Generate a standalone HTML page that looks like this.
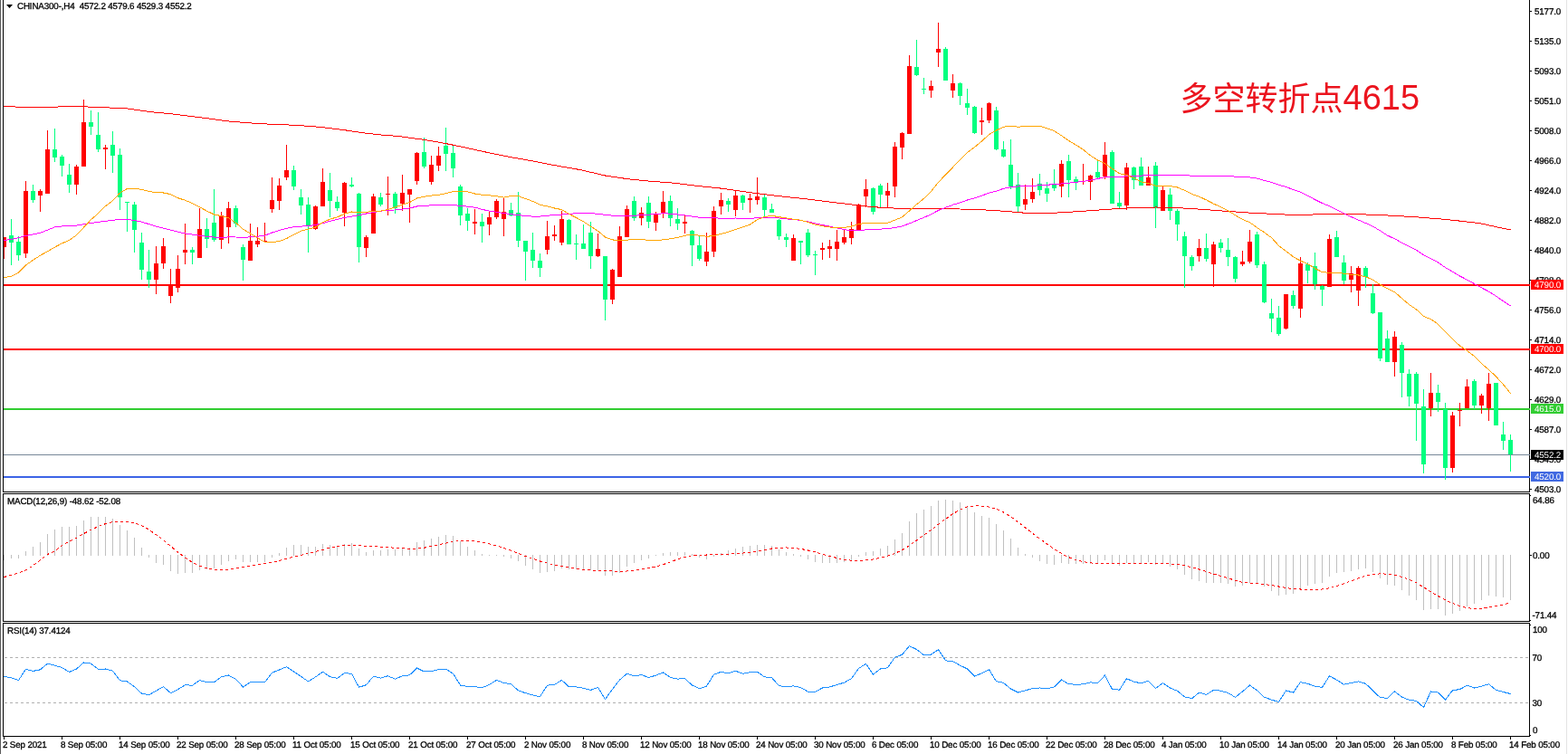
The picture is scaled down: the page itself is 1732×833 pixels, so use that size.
<!DOCTYPE html>
<html><head><meta charset="utf-8"><title>CHINA300 H4</title>
<style>html,body{margin:0;padding:0;background:#fff;overflow:hidden;width:1732px;height:833px}svg{display:block}</style>
</head><body>
<svg width="1732" height="833" viewBox="0 0 1732 833"><rect x="0" y="0" width="1732" height="833" fill="#fff"/>
<rect x="0" y="0" width="1" height="833" fill="#5a5a5a"/>
<rect x="1730" y="0" width="1" height="833" fill="#e3e3e3"/>
<rect x="4" y="314" width="1686" height="2" fill="#ff0000"/>
<rect x="4" y="385" width="1686" height="2" fill="#ff0000"/>
<rect x="4" y="451" width="1686" height="2" fill="#32cd32"/>
<rect x="4" y="502" width="1686" height="1" fill="#778899"/>
<rect x="4" y="526" width="1686" height="2" fill="#3c64e6"/>
<g shape-rendering="crispEdges">
<rect x="4" y="262" width="1" height="24" fill="#ff0000"/>
<rect x="4" y="262" width="3" height="11" fill="#ff0000"/>
<rect x="12" y="242" width="1" height="51" fill="#00ff7f"/>
<rect x="10" y="260" width="5" height="8" fill="#00ff7f"/>
<rect x="20" y="261" width="1" height="27" fill="#00ff7f"/>
<rect x="18" y="267" width="5" height="15" fill="#00ff7f"/>
<rect x="28" y="200" width="1" height="85" fill="#ff0000"/>
<rect x="26" y="211" width="5" height="69" fill="#ff0000"/>
<rect x="36" y="204" width="1" height="20" fill="#00ff7f"/>
<rect x="34" y="211" width="5" height="10" fill="#00ff7f"/>
<rect x="44" y="209" width="1" height="25" fill="#ff0000"/>
<rect x="42" y="211" width="5" height="5" fill="#ff0000"/>
<rect x="52" y="144" width="1" height="70" fill="#ff0000"/>
<rect x="50" y="165" width="5" height="49" fill="#ff0000"/>
<rect x="60" y="142" width="1" height="37" fill="#00ff7f"/>
<rect x="58" y="165" width="5" height="9" fill="#00ff7f"/>
<rect x="68" y="171" width="1" height="24" fill="#00ff7f"/>
<rect x="66" y="173" width="5" height="10" fill="#00ff7f"/>
<rect x="76" y="181" width="1" height="32" fill="#00ff7f"/>
<rect x="74" y="193" width="5" height="11" fill="#00ff7f"/>
<rect x="84" y="182" width="1" height="33" fill="#ff0000"/>
<rect x="82" y="184" width="5" height="20" fill="#ff0000"/>
<rect x="92" y="110" width="1" height="74" fill="#ff0000"/>
<rect x="90" y="135" width="5" height="49" fill="#ff0000"/>
<rect x="100" y="122" width="1" height="27" fill="#00ff7f"/>
<rect x="98" y="135" width="5" height="5" fill="#00ff7f"/>
<rect x="108" y="124" width="1" height="44" fill="#00ff7f"/>
<rect x="106" y="149" width="5" height="16" fill="#00ff7f"/>
<rect x="116" y="160" width="1" height="27" fill="#ff0000"/>
<rect x="114" y="163" width="5" height="2" fill="#ff0000"/>
<rect x="124" y="145" width="1" height="46" fill="#00ff7f"/>
<rect x="122" y="160" width="5" height="12" fill="#00ff7f"/>
<rect x="132" y="164" width="1" height="68" fill="#00ff7f"/>
<rect x="130" y="171" width="5" height="47" fill="#00ff7f"/>
<rect x="140" y="223" width="1" height="33" fill="#00ff7f"/>
<rect x="138" y="223" width="5" height="1" fill="#00ff7f"/>
<rect x="148" y="223" width="1" height="56" fill="#00ff7f"/>
<rect x="146" y="226" width="5" height="28" fill="#00ff7f"/>
<rect x="156" y="257" width="1" height="52" fill="#00ff7f"/>
<rect x="154" y="268" width="5" height="30" fill="#00ff7f"/>
<rect x="164" y="276" width="1" height="42" fill="#00ff7f"/>
<rect x="162" y="300" width="5" height="9" fill="#00ff7f"/>
<rect x="172" y="272" width="1" height="53" fill="#ff0000"/>
<rect x="170" y="291" width="5" height="18" fill="#ff0000"/>
<rect x="180" y="263" width="1" height="34" fill="#ff0000"/>
<rect x="178" y="272" width="5" height="19" fill="#ff0000"/>
<rect x="188" y="297" width="1" height="38" fill="#ff0000"/>
<rect x="186" y="315" width="5" height="12" fill="#ff0000"/>
<rect x="196" y="282" width="1" height="41" fill="#ff0000"/>
<rect x="194" y="297" width="5" height="21" fill="#ff0000"/>
<rect x="204" y="247" width="1" height="45" fill="#ff0000"/>
<rect x="202" y="276" width="5" height="3" fill="#ff0000"/>
<rect x="212" y="273" width="1" height="19" fill="#00ff7f"/>
<rect x="210" y="276" width="5" height="3" fill="#00ff7f"/>
<rect x="220" y="230" width="1" height="55" fill="#ff0000"/>
<rect x="218" y="253" width="5" height="32" fill="#ff0000"/>
<rect x="228" y="241" width="1" height="33" fill="#00ff7f"/>
<rect x="226" y="253" width="5" height="11" fill="#00ff7f"/>
<rect x="236" y="209" width="1" height="58" fill="#00ff7f"/>
<rect x="234" y="246" width="5" height="19" fill="#00ff7f"/>
<rect x="244" y="234" width="1" height="41" fill="#ff0000"/>
<rect x="242" y="238" width="5" height="27" fill="#ff0000"/>
<rect x="252" y="223" width="1" height="46" fill="#ff0000"/>
<rect x="250" y="230" width="5" height="21" fill="#ff0000"/>
<rect x="260" y="227" width="1" height="24" fill="#00ff7f"/>
<rect x="258" y="230" width="5" height="17" fill="#00ff7f"/>
<rect x="268" y="270" width="1" height="40" fill="#00ff7f"/>
<rect x="266" y="273" width="5" height="14" fill="#00ff7f"/>
<rect x="276" y="247" width="1" height="41" fill="#ff0000"/>
<rect x="274" y="266" width="5" height="22" fill="#ff0000"/>
<rect x="284" y="251" width="1" height="22" fill="#ff0000"/>
<rect x="282" y="266" width="5" height="4" fill="#ff0000"/>
<rect x="292" y="246" width="1" height="21" fill="#ff0000"/>
<rect x="290" y="266" width="5" height="1" fill="#ff0000"/>
<rect x="300" y="196" width="1" height="39" fill="#ff0000"/>
<rect x="298" y="221" width="5" height="10" fill="#ff0000"/>
<rect x="308" y="197" width="1" height="35" fill="#ff0000"/>
<rect x="306" y="205" width="5" height="17" fill="#ff0000"/>
<rect x="316" y="160" width="1" height="39" fill="#ff0000"/>
<rect x="314" y="188" width="5" height="8" fill="#ff0000"/>
<rect x="324" y="183" width="1" height="27" fill="#00ff7f"/>
<rect x="322" y="188" width="5" height="18" fill="#00ff7f"/>
<rect x="332" y="209" width="1" height="28" fill="#00ff7f"/>
<rect x="330" y="218" width="5" height="9" fill="#00ff7f"/>
<rect x="340" y="218" width="1" height="61" fill="#00ff7f"/>
<rect x="338" y="226" width="5" height="23" fill="#00ff7f"/>
<rect x="348" y="227" width="1" height="27" fill="#ff0000"/>
<rect x="346" y="228" width="5" height="25" fill="#ff0000"/>
<rect x="356" y="186" width="1" height="42" fill="#ff0000"/>
<rect x="354" y="201" width="5" height="27" fill="#ff0000"/>
<rect x="364" y="191" width="1" height="49" fill="#00ff7f"/>
<rect x="362" y="210" width="5" height="12" fill="#00ff7f"/>
<rect x="372" y="217" width="1" height="16" fill="#00ff7f"/>
<rect x="370" y="223" width="5" height="7" fill="#00ff7f"/>
<rect x="380" y="201" width="1" height="49" fill="#ff0000"/>
<rect x="378" y="202" width="5" height="33" fill="#ff0000"/>
<rect x="388" y="196" width="1" height="11" fill="#00ff7f"/>
<rect x="386" y="204" width="5" height="2" fill="#00ff7f"/>
<rect x="396" y="213" width="1" height="77" fill="#00ff7f"/>
<rect x="394" y="214" width="5" height="59" fill="#00ff7f"/>
<rect x="404" y="260" width="1" height="24" fill="#ff0000"/>
<rect x="402" y="262" width="5" height="12" fill="#ff0000"/>
<rect x="412" y="214" width="1" height="44" fill="#ff0000"/>
<rect x="410" y="217" width="5" height="41" fill="#ff0000"/>
<rect x="420" y="213" width="1" height="15" fill="#00ff7f"/>
<rect x="418" y="218" width="5" height="8" fill="#00ff7f"/>
<rect x="428" y="195" width="1" height="43" fill="#ff0000"/>
<rect x="426" y="214" width="5" height="1" fill="#ff0000"/>
<rect x="436" y="212" width="1" height="24" fill="#00ff7f"/>
<rect x="434" y="214" width="5" height="16" fill="#00ff7f"/>
<rect x="444" y="193" width="1" height="40" fill="#ff0000"/>
<rect x="442" y="213" width="5" height="12" fill="#ff0000"/>
<rect x="452" y="209" width="1" height="37" fill="#ff0000"/>
<rect x="450" y="209" width="5" height="6" fill="#ff0000"/>
<rect x="460" y="168" width="1" height="36" fill="#ff0000"/>
<rect x="458" y="169" width="5" height="31" fill="#ff0000"/>
<rect x="468" y="152" width="1" height="34" fill="#00ff7f"/>
<rect x="466" y="168" width="5" height="16" fill="#00ff7f"/>
<rect x="476" y="172" width="1" height="32" fill="#ff0000"/>
<rect x="474" y="182" width="5" height="19" fill="#ff0000"/>
<rect x="484" y="162" width="1" height="27" fill="#ff0000"/>
<rect x="482" y="172" width="5" height="11" fill="#ff0000"/>
<rect x="492" y="141" width="1" height="48" fill="#00ff7f"/>
<rect x="490" y="161" width="5" height="9" fill="#00ff7f"/>
<rect x="500" y="161" width="1" height="35" fill="#00ff7f"/>
<rect x="498" y="169" width="5" height="17" fill="#00ff7f"/>
<rect x="508" y="204" width="1" height="45" fill="#00ff7f"/>
<rect x="506" y="206" width="5" height="32" fill="#00ff7f"/>
<rect x="516" y="230" width="1" height="25" fill="#00ff7f"/>
<rect x="514" y="236" width="5" height="8" fill="#00ff7f"/>
<rect x="524" y="231" width="1" height="28" fill="#ff0000"/>
<rect x="522" y="245" width="5" height="2" fill="#ff0000"/>
<rect x="532" y="236" width="1" height="32" fill="#00ff7f"/>
<rect x="530" y="245" width="5" height="5" fill="#00ff7f"/>
<rect x="540" y="234" width="1" height="26" fill="#ff0000"/>
<rect x="538" y="240" width="5" height="8" fill="#ff0000"/>
<rect x="548" y="220" width="1" height="22" fill="#ff0000"/>
<rect x="546" y="222" width="5" height="18" fill="#ff0000"/>
<rect x="556" y="219" width="1" height="42" fill="#ff0000"/>
<rect x="554" y="234" width="5" height="8" fill="#ff0000"/>
<rect x="564" y="224" width="1" height="15" fill="#00ff7f"/>
<rect x="562" y="232" width="5" height="6" fill="#00ff7f"/>
<rect x="572" y="212" width="1" height="61" fill="#00ff7f"/>
<rect x="570" y="235" width="5" height="31" fill="#00ff7f"/>
<rect x="580" y="266" width="1" height="44" fill="#00ff7f"/>
<rect x="578" y="266" width="5" height="12" fill="#00ff7f"/>
<rect x="588" y="257" width="1" height="39" fill="#00ff7f"/>
<rect x="586" y="276" width="5" height="12" fill="#00ff7f"/>
<rect x="596" y="280" width="1" height="26" fill="#00ff7f"/>
<rect x="594" y="288" width="5" height="8" fill="#00ff7f"/>
<rect x="604" y="244" width="1" height="37" fill="#ff0000"/>
<rect x="602" y="261" width="5" height="15" fill="#ff0000"/>
<rect x="612" y="249" width="1" height="17" fill="#ff0000"/>
<rect x="610" y="259" width="5" height="2" fill="#ff0000"/>
<rect x="620" y="233" width="1" height="38" fill="#ff0000"/>
<rect x="618" y="242" width="5" height="26" fill="#ff0000"/>
<rect x="628" y="242" width="1" height="28" fill="#00ff7f"/>
<rect x="626" y="243" width="5" height="27" fill="#00ff7f"/>
<rect x="636" y="259" width="1" height="28" fill="#00ff7f"/>
<rect x="634" y="269" width="5" height="1" fill="#00ff7f"/>
<rect x="644" y="248" width="1" height="27" fill="#00ff7f"/>
<rect x="642" y="269" width="5" height="6" fill="#00ff7f"/>
<rect x="652" y="245" width="1" height="52" fill="#00ff7f"/>
<rect x="650" y="257" width="5" height="26" fill="#00ff7f"/>
<rect x="660" y="258" width="1" height="26" fill="#ff0000"/>
<rect x="658" y="275" width="5" height="8" fill="#ff0000"/>
<rect x="668" y="283" width="1" height="71" fill="#00ff7f"/>
<rect x="666" y="283" width="5" height="48" fill="#00ff7f"/>
<rect x="676" y="297" width="1" height="39" fill="#ff0000"/>
<rect x="674" y="298" width="5" height="33" fill="#ff0000"/>
<rect x="684" y="250" width="1" height="56" fill="#ff0000"/>
<rect x="682" y="261" width="5" height="45" fill="#ff0000"/>
<rect x="692" y="227" width="1" height="35" fill="#ff0000"/>
<rect x="690" y="231" width="5" height="31" fill="#ff0000"/>
<rect x="700" y="217" width="1" height="27" fill="#00ff7f"/>
<rect x="698" y="222" width="5" height="19" fill="#00ff7f"/>
<rect x="708" y="229" width="1" height="20" fill="#ff0000"/>
<rect x="706" y="235" width="5" height="6" fill="#ff0000"/>
<rect x="716" y="217" width="1" height="35" fill="#00ff7f"/>
<rect x="714" y="224" width="5" height="21" fill="#00ff7f"/>
<rect x="724" y="234" width="1" height="21" fill="#ff0000"/>
<rect x="722" y="236" width="5" height="10" fill="#ff0000"/>
<rect x="732" y="211" width="1" height="30" fill="#ff0000"/>
<rect x="730" y="223" width="5" height="12" fill="#ff0000"/>
<rect x="740" y="216" width="1" height="34" fill="#00ff7f"/>
<rect x="738" y="222" width="5" height="19" fill="#00ff7f"/>
<rect x="748" y="230" width="1" height="24" fill="#00ff7f"/>
<rect x="746" y="242" width="5" height="5" fill="#00ff7f"/>
<rect x="756" y="238" width="1" height="20" fill="#ff0000"/>
<rect x="754" y="245" width="5" height="2" fill="#ff0000"/>
<rect x="764" y="254" width="1" height="40" fill="#00ff7f"/>
<rect x="762" y="255" width="5" height="16" fill="#00ff7f"/>
<rect x="772" y="261" width="1" height="27" fill="#00ff7f"/>
<rect x="770" y="271" width="5" height="15" fill="#00ff7f"/>
<rect x="780" y="257" width="1" height="37" fill="#ff0000"/>
<rect x="778" y="278" width="5" height="11" fill="#ff0000"/>
<rect x="788" y="228" width="1" height="56" fill="#ff0000"/>
<rect x="786" y="233" width="5" height="45" fill="#ff0000"/>
<rect x="796" y="213" width="1" height="24" fill="#ff0000"/>
<rect x="794" y="221" width="5" height="7" fill="#ff0000"/>
<rect x="804" y="219" width="1" height="15" fill="#00ff7f"/>
<rect x="802" y="222" width="5" height="4" fill="#00ff7f"/>
<rect x="812" y="210" width="1" height="29" fill="#ff0000"/>
<rect x="810" y="216" width="5" height="16" fill="#ff0000"/>
<rect x="820" y="215" width="1" height="17" fill="#00ff7f"/>
<rect x="818" y="216" width="5" height="8" fill="#00ff7f"/>
<rect x="828" y="214" width="1" height="21" fill="#ff0000"/>
<rect x="826" y="219" width="5" height="2" fill="#ff0000"/>
<rect x="836" y="196" width="1" height="30" fill="#ff0000"/>
<rect x="834" y="217" width="5" height="4" fill="#ff0000"/>
<rect x="844" y="215" width="1" height="24" fill="#00ff7f"/>
<rect x="842" y="218" width="5" height="14" fill="#00ff7f"/>
<rect x="852" y="225" width="1" height="10" fill="#00ff7f"/>
<rect x="850" y="231" width="5" height="4" fill="#00ff7f"/>
<rect x="860" y="242" width="1" height="23" fill="#00ff7f"/>
<rect x="858" y="243" width="5" height="18" fill="#00ff7f"/>
<rect x="868" y="258" width="1" height="15" fill="#00ff7f"/>
<rect x="866" y="262" width="5" height="3" fill="#00ff7f"/>
<rect x="876" y="259" width="1" height="29" fill="#ff0000"/>
<rect x="874" y="263" width="5" height="25" fill="#ff0000"/>
<rect x="884" y="266" width="1" height="26" fill="#00ff7f"/>
<rect x="882" y="266" width="5" height="2" fill="#00ff7f"/>
<rect x="892" y="253" width="1" height="31" fill="#00ff7f"/>
<rect x="890" y="257" width="5" height="25" fill="#00ff7f"/>
<rect x="900" y="277" width="1" height="27" fill="#00ff7f"/>
<rect x="898" y="281" width="5" height="1" fill="#00ff7f"/>
<rect x="908" y="268" width="1" height="19" fill="#ff0000"/>
<rect x="906" y="274" width="5" height="2" fill="#ff0000"/>
<rect x="916" y="265" width="1" height="20" fill="#ff0000"/>
<rect x="914" y="272" width="5" height="3" fill="#ff0000"/>
<rect x="924" y="254" width="1" height="34" fill="#ff0000"/>
<rect x="922" y="267" width="5" height="8" fill="#ff0000"/>
<rect x="932" y="254" width="1" height="16" fill="#ff0000"/>
<rect x="930" y="262" width="5" height="6" fill="#ff0000"/>
<rect x="940" y="245" width="1" height="25" fill="#ff0000"/>
<rect x="938" y="253" width="5" height="10" fill="#ff0000"/>
<rect x="948" y="225" width="1" height="29" fill="#ff0000"/>
<rect x="946" y="226" width="5" height="28" fill="#ff0000"/>
<rect x="956" y="198" width="1" height="31" fill="#ff0000"/>
<rect x="954" y="209" width="5" height="8" fill="#ff0000"/>
<rect x="964" y="207" width="1" height="30" fill="#00ff7f"/>
<rect x="962" y="208" width="5" height="26" fill="#00ff7f"/>
<rect x="972" y="203" width="1" height="26" fill="#00ff7f"/>
<rect x="970" y="205" width="5" height="10" fill="#00ff7f"/>
<rect x="980" y="202" width="1" height="27" fill="#ff0000"/>
<rect x="978" y="211" width="5" height="5" fill="#ff0000"/>
<rect x="988" y="157" width="1" height="61" fill="#ff0000"/>
<rect x="986" y="162" width="5" height="44" fill="#ff0000"/>
<rect x="996" y="146" width="1" height="30" fill="#ff0000"/>
<rect x="994" y="147" width="5" height="16" fill="#ff0000"/>
<rect x="1004" y="61" width="1" height="87" fill="#ff0000"/>
<rect x="1002" y="73" width="5" height="75" fill="#ff0000"/>
<rect x="1012" y="44" width="1" height="40" fill="#00ff7f"/>
<rect x="1010" y="74" width="5" height="9" fill="#00ff7f"/>
<rect x="1020" y="86" width="1" height="18" fill="#00ff7f"/>
<rect x="1018" y="98" width="5" height="1" fill="#00ff7f"/>
<rect x="1028" y="89" width="1" height="19" fill="#ff0000"/>
<rect x="1026" y="95" width="5" height="5" fill="#ff0000"/>
<rect x="1036" y="25" width="1" height="49" fill="#ff0000"/>
<rect x="1034" y="54" width="5" height="4" fill="#ff0000"/>
<rect x="1044" y="52" width="1" height="37" fill="#00ff7f"/>
<rect x="1042" y="54" width="5" height="35" fill="#00ff7f"/>
<rect x="1052" y="82" width="1" height="26" fill="#ff0000"/>
<rect x="1050" y="92" width="5" height="8" fill="#ff0000"/>
<rect x="1060" y="91" width="1" height="25" fill="#00ff7f"/>
<rect x="1058" y="92" width="5" height="14" fill="#00ff7f"/>
<rect x="1068" y="98" width="1" height="29" fill="#00ff7f"/>
<rect x="1066" y="114" width="5" height="5" fill="#00ff7f"/>
<rect x="1076" y="117" width="1" height="31" fill="#00ff7f"/>
<rect x="1074" y="118" width="5" height="29" fill="#00ff7f"/>
<rect x="1084" y="119" width="1" height="30" fill="#ff0000"/>
<rect x="1082" y="133" width="5" height="2" fill="#ff0000"/>
<rect x="1092" y="113" width="1" height="23" fill="#ff0000"/>
<rect x="1090" y="114" width="5" height="19" fill="#ff0000"/>
<rect x="1100" y="118" width="1" height="48" fill="#00ff7f"/>
<rect x="1098" y="122" width="5" height="43" fill="#00ff7f"/>
<rect x="1108" y="156" width="1" height="18" fill="#00ff7f"/>
<rect x="1106" y="165" width="5" height="8" fill="#00ff7f"/>
<rect x="1116" y="154" width="1" height="55" fill="#00ff7f"/>
<rect x="1114" y="182" width="5" height="24" fill="#00ff7f"/>
<rect x="1124" y="191" width="1" height="43" fill="#00ff7f"/>
<rect x="1122" y="204" width="5" height="24" fill="#00ff7f"/>
<rect x="1132" y="204" width="1" height="28" fill="#ff0000"/>
<rect x="1130" y="220" width="5" height="6" fill="#ff0000"/>
<rect x="1140" y="197" width="1" height="27" fill="#ff0000"/>
<rect x="1138" y="212" width="5" height="8" fill="#ff0000"/>
<rect x="1148" y="192" width="1" height="24" fill="#00ff7f"/>
<rect x="1146" y="203" width="5" height="7" fill="#00ff7f"/>
<rect x="1156" y="201" width="1" height="22" fill="#00ff7f"/>
<rect x="1154" y="208" width="5" height="6" fill="#00ff7f"/>
<rect x="1164" y="187" width="1" height="24" fill="#00ff7f"/>
<rect x="1162" y="204" width="5" height="4" fill="#00ff7f"/>
<rect x="1172" y="177" width="1" height="41" fill="#ff0000"/>
<rect x="1170" y="181" width="5" height="25" fill="#ff0000"/>
<rect x="1180" y="171" width="1" height="47" fill="#00ff7f"/>
<rect x="1178" y="178" width="5" height="21" fill="#00ff7f"/>
<rect x="1188" y="195" width="1" height="15" fill="#00ff7f"/>
<rect x="1186" y="198" width="5" height="3" fill="#00ff7f"/>
<rect x="1196" y="181" width="1" height="23" fill="#ff0000"/>
<rect x="1194" y="200" width="5" height="1" fill="#ff0000"/>
<rect x="1204" y="193" width="1" height="28" fill="#ff0000"/>
<rect x="1202" y="194" width="5" height="7" fill="#ff0000"/>
<rect x="1212" y="178" width="1" height="20" fill="#00ff7f"/>
<rect x="1210" y="190" width="5" height="6" fill="#00ff7f"/>
<rect x="1220" y="157" width="1" height="41" fill="#ff0000"/>
<rect x="1218" y="171" width="5" height="24" fill="#ff0000"/>
<rect x="1228" y="166" width="1" height="59" fill="#00ff7f"/>
<rect x="1226" y="168" width="5" height="57" fill="#00ff7f"/>
<rect x="1236" y="212" width="1" height="18" fill="#00ff7f"/>
<rect x="1234" y="224" width="5" height="4" fill="#00ff7f"/>
<rect x="1244" y="180" width="1" height="52" fill="#ff0000"/>
<rect x="1242" y="185" width="5" height="42" fill="#ff0000"/>
<rect x="1252" y="184" width="1" height="25" fill="#00ff7f"/>
<rect x="1250" y="185" width="5" height="14" fill="#00ff7f"/>
<rect x="1260" y="174" width="1" height="31" fill="#00ff7f"/>
<rect x="1258" y="184" width="5" height="21" fill="#00ff7f"/>
<rect x="1268" y="184" width="1" height="21" fill="#ff0000"/>
<rect x="1266" y="196" width="5" height="9" fill="#ff0000"/>
<rect x="1276" y="179" width="1" height="73" fill="#00ff7f"/>
<rect x="1274" y="183" width="5" height="47" fill="#00ff7f"/>
<rect x="1284" y="205" width="1" height="28" fill="#ff0000"/>
<rect x="1282" y="210" width="5" height="23" fill="#ff0000"/>
<rect x="1292" y="208" width="1" height="35" fill="#00ff7f"/>
<rect x="1290" y="215" width="5" height="18" fill="#00ff7f"/>
<rect x="1300" y="231" width="1" height="35" fill="#00ff7f"/>
<rect x="1298" y="233" width="5" height="15" fill="#00ff7f"/>
<rect x="1308" y="256" width="1" height="62" fill="#00ff7f"/>
<rect x="1306" y="261" width="5" height="22" fill="#00ff7f"/>
<rect x="1316" y="282" width="1" height="17" fill="#00ff7f"/>
<rect x="1314" y="284" width="5" height="10" fill="#00ff7f"/>
<rect x="1324" y="264" width="1" height="25" fill="#ff0000"/>
<rect x="1322" y="274" width="5" height="9" fill="#ff0000"/>
<rect x="1332" y="258" width="1" height="31" fill="#00ff7f"/>
<rect x="1330" y="274" width="5" height="12" fill="#00ff7f"/>
<rect x="1340" y="267" width="1" height="50" fill="#ff0000"/>
<rect x="1338" y="270" width="5" height="22" fill="#ff0000"/>
<rect x="1348" y="264" width="1" height="15" fill="#00ff7f"/>
<rect x="1346" y="268" width="5" height="6" fill="#00ff7f"/>
<rect x="1356" y="263" width="1" height="31" fill="#00ff7f"/>
<rect x="1354" y="276" width="5" height="8" fill="#00ff7f"/>
<rect x="1364" y="283" width="1" height="29" fill="#00ff7f"/>
<rect x="1362" y="284" width="5" height="24" fill="#00ff7f"/>
<rect x="1372" y="277" width="1" height="17" fill="#ff0000"/>
<rect x="1370" y="289" width="5" height="3" fill="#ff0000"/>
<rect x="1380" y="254" width="1" height="37" fill="#ff0000"/>
<rect x="1378" y="267" width="5" height="22" fill="#ff0000"/>
<rect x="1388" y="256" width="1" height="40" fill="#00ff7f"/>
<rect x="1386" y="259" width="5" height="34" fill="#00ff7f"/>
<rect x="1396" y="289" width="1" height="46" fill="#00ff7f"/>
<rect x="1394" y="292" width="5" height="42" fill="#00ff7f"/>
<rect x="1404" y="330" width="1" height="37" fill="#00ff7f"/>
<rect x="1402" y="346" width="5" height="6" fill="#00ff7f"/>
<rect x="1412" y="338" width="1" height="33" fill="#00ff7f"/>
<rect x="1410" y="351" width="5" height="18" fill="#00ff7f"/>
<rect x="1420" y="325" width="1" height="39" fill="#ff0000"/>
<rect x="1418" y="325" width="5" height="38" fill="#ff0000"/>
<rect x="1428" y="321" width="1" height="20" fill="#00ff7f"/>
<rect x="1426" y="326" width="5" height="12" fill="#00ff7f"/>
<rect x="1436" y="284" width="1" height="67" fill="#ff0000"/>
<rect x="1434" y="291" width="5" height="50" fill="#ff0000"/>
<rect x="1444" y="290" width="1" height="23" fill="#00ff7f"/>
<rect x="1442" y="292" width="5" height="7" fill="#00ff7f"/>
<rect x="1452" y="279" width="1" height="41" fill="#00ff7f"/>
<rect x="1450" y="294" width="5" height="20" fill="#00ff7f"/>
<rect x="1460" y="315" width="1" height="23" fill="#00ff7f"/>
<rect x="1458" y="316" width="5" height="4" fill="#00ff7f"/>
<rect x="1468" y="259" width="1" height="58" fill="#ff0000"/>
<rect x="1466" y="264" width="5" height="53" fill="#ff0000"/>
<rect x="1476" y="255" width="1" height="29" fill="#00ff7f"/>
<rect x="1474" y="262" width="5" height="22" fill="#00ff7f"/>
<rect x="1484" y="282" width="1" height="32" fill="#00ff7f"/>
<rect x="1482" y="290" width="5" height="20" fill="#00ff7f"/>
<rect x="1492" y="294" width="1" height="29" fill="#ff0000"/>
<rect x="1490" y="302" width="5" height="7" fill="#ff0000"/>
<rect x="1500" y="294" width="1" height="44" fill="#ff0000"/>
<rect x="1498" y="296" width="5" height="25" fill="#ff0000"/>
<rect x="1508" y="294" width="1" height="24" fill="#00ff7f"/>
<rect x="1506" y="296" width="5" height="10" fill="#00ff7f"/>
<rect x="1516" y="314" width="1" height="33" fill="#00ff7f"/>
<rect x="1514" y="324" width="5" height="22" fill="#00ff7f"/>
<rect x="1524" y="345" width="1" height="54" fill="#00ff7f"/>
<rect x="1522" y="345" width="5" height="51" fill="#00ff7f"/>
<rect x="1532" y="365" width="1" height="35" fill="#00ff7f"/>
<rect x="1530" y="374" width="5" height="26" fill="#00ff7f"/>
<rect x="1540" y="366" width="1" height="50" fill="#ff0000"/>
<rect x="1538" y="372" width="5" height="28" fill="#ff0000"/>
<rect x="1548" y="378" width="1" height="61" fill="#00ff7f"/>
<rect x="1546" y="381" width="5" height="31" fill="#00ff7f"/>
<rect x="1556" y="408" width="1" height="41" fill="#00ff7f"/>
<rect x="1554" y="413" width="5" height="25" fill="#00ff7f"/>
<rect x="1564" y="411" width="1" height="76" fill="#00ff7f"/>
<rect x="1562" y="413" width="5" height="33" fill="#00ff7f"/>
<rect x="1572" y="430" width="1" height="93" fill="#00ff7f"/>
<rect x="1570" y="449" width="5" height="64" fill="#00ff7f"/>
<rect x="1580" y="412" width="1" height="48" fill="#ff0000"/>
<rect x="1578" y="434" width="5" height="17" fill="#ff0000"/>
<rect x="1588" y="425" width="1" height="30" fill="#00ff7f"/>
<rect x="1586" y="434" width="5" height="10" fill="#00ff7f"/>
<rect x="1596" y="445" width="1" height="85" fill="#00ff7f"/>
<rect x="1594" y="452" width="5" height="65" fill="#00ff7f"/>
<rect x="1604" y="455" width="1" height="67" fill="#ff0000"/>
<rect x="1602" y="459" width="5" height="58" fill="#ff0000"/>
<rect x="1612" y="445" width="1" height="26" fill="#ff0000"/>
<rect x="1610" y="453" width="5" height="1" fill="#ff0000"/>
<rect x="1620" y="419" width="1" height="32" fill="#ff0000"/>
<rect x="1618" y="427" width="5" height="24" fill="#ff0000"/>
<rect x="1628" y="419" width="1" height="33" fill="#00ff7f"/>
<rect x="1626" y="421" width="5" height="27" fill="#00ff7f"/>
<rect x="1636" y="435" width="1" height="22" fill="#ff0000"/>
<rect x="1634" y="437" width="5" height="11" fill="#ff0000"/>
<rect x="1644" y="412" width="1" height="53" fill="#ff0000"/>
<rect x="1642" y="424" width="5" height="27" fill="#ff0000"/>
<rect x="1652" y="423" width="1" height="47" fill="#00ff7f"/>
<rect x="1650" y="423" width="5" height="47" fill="#00ff7f"/>
<rect x="1660" y="466" width="1" height="31" fill="#00ff7f"/>
<rect x="1658" y="480" width="5" height="7" fill="#00ff7f"/>
<rect x="1668" y="480" width="1" height="41" fill="#00ff7f"/>
<rect x="1666" y="486" width="5" height="16" fill="#00ff7f"/>
</g>
<g shape-rendering="crispEdges">
<polyline points="4.5,117.5 12.5,117.5 20.5,118.5 28.5,118.5 36.5,118.5 44.5,118.5 52.5,118.5 60.5,118.5 68.5,117.5 76.5,117.5 84.5,117.5 92.5,117.5 100.5,118.5 108.5,118.5 116.5,118.5 124.5,119.5 132.5,119.5 140.5,120.0 148.5,121.1 156.5,122.2 164.5,123.3 172.5,124.3 180.5,125.0 188.5,125.7 196.5,126.7 204.5,127.7 212.5,128.7 220.5,129.7 228.5,130.7 236.5,131.8 244.5,133.0 252.5,134.0 260.5,134.7 268.5,135.3 276.5,135.9 284.5,136.4 292.5,136.9 300.5,137.2 308.5,137.6 316.5,137.9 324.5,138.3 332.5,138.8 340.5,139.3 348.5,140.0 356.5,140.7 364.5,141.6 372.5,142.7 380.5,143.7 388.5,144.9 396.5,146.1 404.5,147.2 412.5,148.1 420.5,149.0 428.5,149.6 436.5,150.2 444.5,151.1 452.5,152.2 460.5,153.3 468.5,154.4 476.5,155.8 484.5,157.1 492.5,158.6 500.5,160.2 508.5,161.9 516.5,163.6 524.5,165.4 532.5,167.1 540.5,168.9 548.5,170.5 556.5,172.1 564.5,173.7 572.5,175.1 580.5,176.5 588.5,177.9 596.5,179.5 604.5,181.1 612.5,182.6 620.5,184.1 628.5,185.5 636.5,186.8 644.5,188.4 652.5,190.3 660.5,192.1 668.5,194.0 676.5,195.2 684.5,196.4 692.5,197.6 700.5,198.5 708.5,199.3 716.5,200.1 724.5,200.7 732.5,201.3 740.5,201.9 748.5,202.6 756.5,203.7 764.5,204.7 772.5,205.7 780.5,206.5 788.5,207.3 796.5,208.1 804.5,209.2 812.5,210.4 820.5,211.5 828.5,212.6 836.5,213.7 844.5,214.7 852.5,215.7 860.5,216.6 868.5,217.6 876.5,218.4 884.5,219.1 892.5,220.1 900.5,221.1 908.5,222.1 916.5,223.1 924.5,224.1 932.5,225.0 940.5,226.0 948.5,227.0 956.5,227.9 964.5,228.7 972.5,229.2 980.5,229.7 988.5,230.1 996.5,230.3 1004.5,230.4 1012.5,230.6 1020.5,230.6 1028.5,230.6 1036.5,230.6 1044.5,230.7 1052.5,230.9 1060.5,231.0 1068.5,231.3 1076.5,231.5 1084.5,231.8 1092.5,232.2 1100.5,232.7 1108.5,233.3 1116.5,233.9 1124.5,234.7 1132.5,235.2 1140.5,235.2 1148.5,235.2 1156.5,235.2 1164.5,235.2 1172.5,234.8 1180.5,234.3 1188.5,233.8 1196.5,233.3 1204.5,232.7 1212.5,232.1 1220.5,231.6 1228.5,231.0 1236.5,230.4 1244.5,230.0 1252.5,229.7 1260.5,229.5 1268.5,229.2 1276.5,229.0 1284.5,229.1 1292.5,229.4 1300.5,229.7 1308.5,230.1 1316.5,230.6 1324.5,231.1 1332.5,231.7 1340.5,232.3 1348.5,232.9 1356.5,233.5 1364.5,234.0 1372.5,234.6 1380.5,235.1 1388.5,235.5 1396.5,235.9 1404.5,236.3 1412.5,236.7 1420.5,237.1 1428.5,237.2 1436.5,237.2 1444.5,237.2 1452.5,236.9 1460.5,236.6 1468.5,236.3 1476.5,236.2 1484.5,236.2 1492.5,236.2 1500.5,236.6 1508.5,237.0 1516.5,237.4 1524.5,237.7 1532.5,238.0 1540.5,238.4 1548.5,238.9 1556.5,239.3 1564.5,239.8 1572.5,240.4 1580.5,241.1 1588.5,241.7 1596.5,242.5 1604.5,243.3 1612.5,244.1 1620.5,245.1 1628.5,246.0 1636.5,247.1 1644.5,248.8 1652.5,250.6 1660.5,252.3 1668.5,254.0" fill="none" stroke="#ff0000" stroke-width="1" stroke-linecap="square" />
<polyline points="4.5,265.6 12.5,264.4 20.5,262.6 28.5,260.4 36.5,258.9 44.5,257.3 52.5,254.1 60.5,250.9 68.5,250.0 76.5,249.5 84.5,249.1 92.5,247.7 100.5,246.5 108.5,245.4 116.5,244.3 124.5,243.3 132.5,242.5 140.5,242.5 148.5,243.4 156.5,245.2 164.5,247.6 172.5,250.1 180.5,252.2 188.5,254.2 196.5,256.2 204.5,257.9 212.5,259.1 220.5,260.3 228.5,261.3 236.5,262.1 244.5,262.7 252.5,261.8 260.5,262.0 268.5,262.2 276.5,261.9 284.5,261.2 292.5,260.2 300.5,257.0 308.5,254.5 316.5,252.3 324.5,250.7 332.5,250.1 340.5,249.6 348.5,248.5 356.5,246.6 364.5,244.4 372.5,242.4 380.5,240.5 388.5,239.1 396.5,237.7 404.5,236.0 412.5,234.5 420.5,233.3 428.5,232.1 436.5,232.0 444.5,231.1 452.5,230.0 460.5,228.0 468.5,227.5 476.5,226.8 484.5,226.1 492.5,226.1 500.5,226.4 508.5,227.4 516.5,228.1 524.5,229.2 532.5,231.3 540.5,233.2 548.5,234.2 556.5,235.5 564.5,236.7 572.5,237.6 580.5,238.5 588.5,239.1 596.5,239.1 604.5,238.2 612.5,237.6 620.5,237.1 628.5,236.3 636.5,235.8 644.5,235.8 652.5,235.8 660.5,236.2 668.5,237.4 676.5,238.1 684.5,238.5 692.5,238.5 700.5,238.4 708.5,237.4 716.5,237.1 724.5,236.5 732.5,235.8 740.5,236.1 748.5,236.9 756.5,237.9 764.5,239.1 772.5,240.2 780.5,240.7 788.5,240.8 796.5,241.2 804.5,241.2 812.5,241.0 820.5,241.4 828.5,241.6 836.5,240.6 844.5,240.1 852.5,240.4 860.5,241.0 868.5,241.9 876.5,242.5 884.5,243.5 892.5,244.9 900.5,246.9 908.5,248.6 916.5,250.2 924.5,251.9 932.5,253.6 940.5,254.8 948.5,254.6 956.5,253.9 964.5,253.7 972.5,253.1 980.5,252.6 988.5,251.5 996.5,249.9 1004.5,246.9 1012.5,243.6 1020.5,240.3 1028.5,236.8 1036.5,232.4 1044.5,229.3 1052.5,226.3 1060.5,223.8 1068.5,221.0 1076.5,218.8 1084.5,216.2 1092.5,213.1 1100.5,211.2 1108.5,208.3 1116.5,206.6 1124.5,206.0 1132.5,205.8 1140.5,205.3 1148.5,204.8 1156.5,204.2 1164.5,203.7 1172.5,203.0 1180.5,202.2 1188.5,201.3 1196.5,200.5 1204.5,199.1 1212.5,197.5 1220.5,195.6 1228.5,195.4 1236.5,195.5 1244.5,194.8 1252.5,194.5 1260.5,194.1 1268.5,193.7 1276.5,194.0 1284.5,193.5 1292.5,193.5 1300.5,193.3 1308.5,193.6 1316.5,194.2 1324.5,194.3 1332.5,194.4 1340.5,194.1 1348.5,194.1 1356.5,194.4 1364.5,195.1 1372.5,195.6 1380.5,195.9 1388.5,197.1 1396.5,199.4 1404.5,201.5 1412.5,204.3 1420.5,206.4 1428.5,209.6 1436.5,212.2 1444.5,216.3 1452.5,220.5 1460.5,224.5 1468.5,227.6 1476.5,231.8 1484.5,235.8 1492.5,239.6 1500.5,243.1 1508.5,246.5 1516.5,250.1 1524.5,254.9 1532.5,260.1 1540.5,263.8 1548.5,268.2 1556.5,272.4 1564.5,276.4 1572.5,281.7 1580.5,285.7 1588.5,290.0 1596.5,295.5 1604.5,300.1 1612.5,305.0 1620.5,309.1 1628.5,313.6 1636.5,317.9 1644.5,322.1 1652.5,327.1 1660.5,332.8 1668.5,337.9" fill="none" stroke="#ff00ff" stroke-width="1" stroke-linecap="square" />
<polyline points="4.5,306.6 12.5,305.4 20.5,301.0 28.5,293.0 36.5,287.3 44.5,282.2 52.5,277.7 60.5,273.1 68.5,268.9 76.5,265.3 84.5,259.8 92.5,251.2 100.5,242.7 108.5,235.8 116.5,227.8 124.5,221.7 132.5,213.1 140.5,208.4 148.5,208.4 156.5,209.3 164.5,211.4 172.5,212.8 180.5,213.0 188.5,214.6 196.5,218.7 204.5,221.3 212.5,224.6 220.5,228.8 228.5,233.1 236.5,237.0 244.5,238.6 252.5,240.8 260.5,246.2 268.5,253.2 276.5,258.0 284.5,262.9 292.5,267.4 300.5,267.5 308.5,266.6 316.5,263.5 324.5,259.1 332.5,255.2 340.5,253.2 348.5,251.1 356.5,245.7 364.5,242.1 372.5,239.9 380.5,236.2 388.5,234.0 396.5,234.4 404.5,234.3 412.5,233.3 420.5,233.1 428.5,231.5 436.5,228.8 444.5,226.3 452.5,223.6 460.5,219.0 468.5,217.2 476.5,216.1 484.5,215.3 492.5,213.6 500.5,211.7 508.5,211.1 516.5,211.9 524.5,214.0 532.5,215.3 540.5,215.8 548.5,216.7 556.5,218.1 564.5,216.4 572.5,216.6 580.5,219.5 588.5,222.4 596.5,226.3 604.5,227.8 612.5,230.0 620.5,231.6 628.5,236.4 636.5,240.5 644.5,244.9 652.5,250.2 660.5,255.2 668.5,262.0 676.5,264.9 684.5,265.7 692.5,265.1 700.5,264.6 708.5,264.4 716.5,265.5 724.5,265.6 732.5,264.9 740.5,263.8 748.5,262.3 756.5,260.3 764.5,259.1 772.5,260.3 780.5,261.2 788.5,260.7 796.5,258.4 804.5,256.3 812.5,253.5 820.5,250.7 828.5,248.1 836.5,242.7 844.5,239.5 852.5,238.3 860.5,239.7 868.5,240.9 876.5,242.2 884.5,243.2 892.5,245.4 900.5,248.2 908.5,249.8 916.5,250.9 924.5,252.0 932.5,251.5 940.5,250.0 948.5,247.5 956.5,246.3 964.5,247.0 972.5,246.4 980.5,246.2 988.5,243.2 996.5,239.8 1004.5,232.9 1012.5,225.8 1020.5,219.3 1028.5,211.4 1036.5,201.4 1044.5,193.1 1052.5,184.8 1060.5,176.4 1068.5,168.6 1076.5,162.6 1084.5,155.9 1092.5,148.6 1100.5,144.0 1108.5,140.2 1116.5,139.3 1124.5,140.2 1132.5,139.5 1140.5,139.4 1148.5,139.3 1156.5,141.8 1164.5,144.7 1172.5,149.8 1180.5,155.4 1188.5,160.2 1196.5,165.2 1204.5,171.9 1212.5,177.0 1220.5,180.7 1228.5,186.4 1236.5,191.6 1244.5,193.4 1252.5,196.6 1260.5,201.0 1268.5,202.4 1276.5,205.2 1284.5,205.4 1292.5,205.6 1300.5,207.0 1308.5,210.3 1316.5,214.4 1324.5,217.2 1332.5,220.9 1340.5,225.1 1348.5,228.7 1356.5,232.7 1364.5,237.8 1372.5,242.4 1380.5,245.7 1388.5,251.5 1396.5,256.7 1404.5,262.6 1412.5,271.4 1420.5,277.4 1428.5,283.7 1436.5,288.2 1444.5,291.5 1452.5,296.5 1460.5,300.6 1468.5,301.3 1476.5,301.4 1484.5,302.1 1492.5,303.5 1500.5,304.0 1508.5,305.7 1516.5,309.2 1524.5,314.4 1532.5,318.8 1540.5,322.7 1548.5,329.6 1556.5,336.5 1564.5,341.8 1572.5,349.5 1580.5,352.6 1588.5,358.2 1596.5,366.7 1604.5,374.7 1612.5,382.0 1620.5,387.4 1628.5,393.5 1636.5,401.8 1644.5,408.4 1652.5,416.0 1660.5,424.8 1668.5,434.6" fill="none" stroke="#ffa500" stroke-width="1" stroke-linecap="square" />
</g>
<g shape-rendering="crispEdges" fill="#c0c0c0">
<rect x="4" y="613" width="1" height="6"/>
<rect x="12" y="613" width="1" height="4"/>
<rect x="20" y="613" width="1" height="4"/>
<rect x="28" y="609" width="1" height="5"/>
<rect x="36" y="604" width="1" height="10"/>
<rect x="44" y="599" width="1" height="15"/>
<rect x="52" y="590" width="1" height="24"/>
<rect x="60" y="585" width="1" height="29"/>
<rect x="68" y="582" width="1" height="32"/>
<rect x="76" y="582" width="1" height="32"/>
<rect x="84" y="581" width="1" height="33"/>
<rect x="92" y="575" width="1" height="39"/>
<rect x="100" y="571" width="1" height="43"/>
<rect x="108" y="571" width="1" height="43"/>
<rect x="116" y="571" width="1" height="43"/>
<rect x="124" y="573" width="1" height="41"/>
<rect x="132" y="580" width="1" height="34"/>
<rect x="140" y="586" width="1" height="28"/>
<rect x="148" y="594" width="1" height="20"/>
<rect x="156" y="605" width="1" height="9"/>
<rect x="164" y="613" width="1" height="3"/>
<rect x="172" y="613" width="1" height="9"/>
<rect x="180" y="613" width="1" height="11"/>
<rect x="188" y="613" width="1" height="18"/>
<rect x="196" y="613" width="1" height="21"/>
<rect x="204" y="613" width="1" height="20"/>
<rect x="212" y="613" width="1" height="20"/>
<rect x="220" y="613" width="1" height="17"/>
<rect x="228" y="613" width="1" height="16"/>
<rect x="236" y="613" width="1" height="15"/>
<rect x="244" y="613" width="1" height="11"/>
<rect x="252" y="613" width="1" height="7"/>
<rect x="260" y="613" width="1" height="5"/>
<rect x="268" y="613" width="1" height="8"/>
<rect x="276" y="613" width="1" height="8"/>
<rect x="284" y="613" width="1" height="8"/>
<rect x="292" y="613" width="1" height="8"/>
<rect x="300" y="613" width="1" height="3"/>
<rect x="308" y="611" width="1" height="3"/>
<rect x="316" y="605" width="1" height="9"/>
<rect x="324" y="602" width="1" height="12"/>
<rect x="332" y="602" width="1" height="12"/>
<rect x="340" y="604" width="1" height="10"/>
<rect x="348" y="604" width="1" height="10"/>
<rect x="356" y="601" width="1" height="13"/>
<rect x="364" y="602" width="1" height="12"/>
<rect x="372" y="603" width="1" height="11"/>
<rect x="380" y="601" width="1" height="13"/>
<rect x="388" y="600" width="1" height="14"/>
<rect x="396" y="606" width="1" height="8"/>
<rect x="404" y="610" width="1" height="4"/>
<rect x="412" y="608" width="1" height="6"/>
<rect x="420" y="608" width="1" height="6"/>
<rect x="428" y="607" width="1" height="7"/>
<rect x="436" y="607" width="1" height="7"/>
<rect x="444" y="606" width="1" height="8"/>
<rect x="452" y="605" width="1" height="9"/>
<rect x="460" y="599" width="1" height="15"/>
<rect x="468" y="597" width="1" height="17"/>
<rect x="476" y="595" width="1" height="19"/>
<rect x="484" y="593" width="1" height="21"/>
<rect x="492" y="591" width="1" height="23"/>
<rect x="500" y="592" width="1" height="22"/>
<rect x="508" y="598" width="1" height="16"/>
<rect x="516" y="604" width="1" height="10"/>
<rect x="524" y="608" width="1" height="6"/>
<rect x="532" y="612" width="1" height="2"/>
<rect x="540" y="613" width="1" height="1"/>
<rect x="548" y="613" width="1" height="1"/>
<rect x="556" y="613" width="1" height="2"/>
<rect x="564" y="613" width="1" height="4"/>
<rect x="572" y="613" width="1" height="7"/>
<rect x="580" y="613" width="1" height="12"/>
<rect x="588" y="613" width="1" height="16"/>
<rect x="596" y="613" width="1" height="20"/>
<rect x="604" y="613" width="1" height="19"/>
<rect x="612" y="613" width="1" height="18"/>
<rect x="620" y="613" width="1" height="15"/>
<rect x="628" y="613" width="1" height="16"/>
<rect x="636" y="613" width="1" height="16"/>
<rect x="644" y="613" width="1" height="16"/>
<rect x="652" y="613" width="1" height="17"/>
<rect x="660" y="613" width="1" height="17"/>
<rect x="668" y="613" width="1" height="23"/>
<rect x="676" y="613" width="1" height="23"/>
<rect x="684" y="613" width="1" height="20"/>
<rect x="692" y="613" width="1" height="13"/>
<rect x="700" y="613" width="1" height="9"/>
<rect x="708" y="613" width="1" height="6"/>
<rect x="716" y="613" width="1" height="4"/>
<rect x="724" y="613" width="1" height="1"/>
<rect x="732" y="611" width="1" height="3"/>
<rect x="740" y="610" width="1" height="4"/>
<rect x="748" y="610" width="1" height="4"/>
<rect x="756" y="610" width="1" height="4"/>
<rect x="764" y="612" width="1" height="2"/>
<rect x="772" y="613" width="1" height="3"/>
<rect x="780" y="613" width="1" height="5"/>
<rect x="788" y="613" width="1" height="2"/>
<rect x="796" y="611" width="1" height="3"/>
<rect x="804" y="608" width="1" height="6"/>
<rect x="812" y="606" width="1" height="8"/>
<rect x="820" y="604" width="1" height="10"/>
<rect x="828" y="603" width="1" height="11"/>
<rect x="836" y="602" width="1" height="12"/>
<rect x="844" y="602" width="1" height="12"/>
<rect x="852" y="603" width="1" height="11"/>
<rect x="860" y="607" width="1" height="7"/>
<rect x="868" y="610" width="1" height="4"/>
<rect x="876" y="612" width="1" height="2"/>
<rect x="884" y="613" width="1" height="2"/>
<rect x="892" y="613" width="1" height="5"/>
<rect x="900" y="613" width="1" height="8"/>
<rect x="908" y="613" width="1" height="9"/>
<rect x="916" y="613" width="1" height="9"/>
<rect x="924" y="613" width="1" height="9"/>
<rect x="932" y="613" width="1" height="8"/>
<rect x="940" y="613" width="1" height="7"/>
<rect x="948" y="613" width="1" height="2"/>
<rect x="956" y="610" width="1" height="4"/>
<rect x="964" y="609" width="1" height="5"/>
<rect x="972" y="606" width="1" height="8"/>
<rect x="980" y="603" width="1" height="11"/>
<rect x="988" y="596" width="1" height="18"/>
<rect x="996" y="589" width="1" height="25"/>
<rect x="1004" y="576" width="1" height="38"/>
<rect x="1012" y="567" width="1" height="47"/>
<rect x="1020" y="563" width="1" height="51"/>
<rect x="1028" y="559" width="1" height="55"/>
<rect x="1036" y="553" width="1" height="61"/>
<rect x="1044" y="552" width="1" height="62"/>
<rect x="1052" y="553" width="1" height="61"/>
<rect x="1060" y="555" width="1" height="59"/>
<rect x="1068" y="559" width="1" height="55"/>
<rect x="1076" y="566" width="1" height="48"/>
<rect x="1084" y="570" width="1" height="44"/>
<rect x="1092" y="572" width="1" height="42"/>
<rect x="1100" y="579" width="1" height="35"/>
<rect x="1108" y="586" width="1" height="28"/>
<rect x="1116" y="595" width="1" height="19"/>
<rect x="1124" y="605" width="1" height="9"/>
<rect x="1132" y="612" width="1" height="2"/>
<rect x="1140" y="613" width="1" height="3"/>
<rect x="1148" y="613" width="1" height="7"/>
<rect x="1156" y="613" width="1" height="10"/>
<rect x="1164" y="613" width="1" height="11"/>
<rect x="1172" y="613" width="1" height="9"/>
<rect x="1180" y="613" width="1" height="10"/>
<rect x="1188" y="613" width="1" height="10"/>
<rect x="1196" y="613" width="1" height="10"/>
<rect x="1204" y="613" width="1" height="10"/>
<rect x="1212" y="613" width="1" height="9"/>
<rect x="1220" y="613" width="1" height="6"/>
<rect x="1228" y="613" width="1" height="9"/>
<rect x="1236" y="613" width="1" height="12"/>
<rect x="1244" y="613" width="1" height="9"/>
<rect x="1252" y="613" width="1" height="9"/>
<rect x="1260" y="613" width="1" height="9"/>
<rect x="1268" y="613" width="1" height="8"/>
<rect x="1276" y="613" width="1" height="11"/>
<rect x="1284" y="613" width="1" height="10"/>
<rect x="1292" y="613" width="1" height="13"/>
<rect x="1300" y="613" width="1" height="16"/>
<rect x="1308" y="613" width="1" height="22"/>
<rect x="1316" y="613" width="1" height="27"/>
<rect x="1324" y="613" width="1" height="29"/>
<rect x="1332" y="613" width="1" height="31"/>
<rect x="1340" y="613" width="1" height="31"/>
<rect x="1348" y="613" width="1" height="31"/>
<rect x="1356" y="613" width="1" height="32"/>
<rect x="1364" y="613" width="1" height="35"/>
<rect x="1372" y="613" width="1" height="34"/>
<rect x="1380" y="613" width="1" height="31"/>
<rect x="1388" y="613" width="1" height="31"/>
<rect x="1396" y="613" width="1" height="35"/>
<rect x="1404" y="613" width="1" height="40"/>
<rect x="1412" y="613" width="1" height="45"/>
<rect x="1420" y="613" width="1" height="44"/>
<rect x="1428" y="613" width="1" height="43"/>
<rect x="1436" y="613" width="1" height="38"/>
<rect x="1444" y="613" width="1" height="34"/>
<rect x="1452" y="613" width="1" height="32"/>
<rect x="1460" y="613" width="1" height="31"/>
<rect x="1468" y="613" width="1" height="24"/>
<rect x="1476" y="613" width="1" height="20"/>
<rect x="1484" y="613" width="1" height="19"/>
<rect x="1492" y="613" width="1" height="18"/>
<rect x="1500" y="613" width="1" height="16"/>
<rect x="1508" y="613" width="1" height="15"/>
<rect x="1516" y="613" width="1" height="19"/>
<rect x="1524" y="613" width="1" height="26"/>
<rect x="1532" y="613" width="1" height="33"/>
<rect x="1540" y="613" width="1" height="34"/>
<rect x="1548" y="613" width="1" height="39"/>
<rect x="1556" y="613" width="1" height="45"/>
<rect x="1564" y="613" width="1" height="50"/>
<rect x="1572" y="613" width="1" height="61"/>
<rect x="1580" y="613" width="1" height="60"/>
<rect x="1588" y="613" width="1" height="60"/>
<rect x="1596" y="613" width="1" height="67"/>
<rect x="1604" y="613" width="1" height="65"/>
<rect x="1612" y="613" width="1" height="62"/>
<rect x="1620" y="613" width="1" height="57"/>
<rect x="1628" y="613" width="1" height="54"/>
<rect x="1636" y="613" width="1" height="50"/>
<rect x="1644" y="613" width="1" height="45"/>
<rect x="1652" y="613" width="1" height="46"/>
<rect x="1660" y="613" width="1" height="47"/>
<rect x="1668" y="613" width="1" height="50"/>
</g>
<g shape-rendering="crispEdges"><polyline points="4.5,637.6 12.5,635.2 20.5,632.9 28.5,629.7 36.5,624.9 44.5,618.7 52.5,612.5 60.5,608.8 68.5,602.4 76.5,598.3 84.5,594.2 92.5,589.6 100.5,585.3 108.5,581.7 116.5,578.6 124.5,576.7 132.5,576.1 140.5,576.5 148.5,577.9 156.5,580.6 164.5,585.2 172.5,590.8 180.5,596.8 188.5,603.3 196.5,610.1 204.5,616.0 212.5,621.3 220.5,625.3 228.5,627.9 236.5,629.3 244.5,629.6 252.5,629.1 260.5,627.7 268.5,626.4 276.5,625.0 284.5,623.7 292.5,622.7 300.5,621.2 308.5,619.3 316.5,617.2 324.5,615.2 332.5,613.3 340.5,611.4 348.5,609.5 356.5,607.3 364.5,605.1 372.5,603.6 380.5,602.5 388.5,602.0 396.5,602.4 404.5,603.3 412.5,603.7 420.5,604.1 428.5,604.7 436.5,605.3 444.5,605.7 452.5,606.2 460.5,606.2 468.5,605.2 476.5,603.6 484.5,601.9 492.5,600.1 500.5,598.5 508.5,597.4 516.5,597.2 524.5,597.6 532.5,599.0 540.5,600.9 548.5,603.0 556.5,605.5 564.5,608.3 572.5,611.5 580.5,614.4 588.5,617.2 596.5,620.0 604.5,622.1 612.5,624.0 620.5,625.5 628.5,627.0 636.5,628.3 644.5,629.3 652.5,630.0 660.5,630.1 668.5,630.5 676.5,631.0 684.5,631.2 692.5,631.0 700.5,630.3 708.5,629.1 716.5,627.7 724.5,625.9 732.5,623.7 740.5,620.8 748.5,617.9 756.5,615.3 764.5,613.7 772.5,613.0 780.5,613.0 788.5,612.8 796.5,612.4 804.5,612.2 812.5,611.7 820.5,611.1 828.5,610.3 836.5,609.1 844.5,607.6 852.5,606.0 860.5,605.1 868.5,605.0 876.5,605.4 884.5,606.4 892.5,608.0 900.5,610.0 908.5,612.2 916.5,614.5 924.5,616.5 932.5,618.1 940.5,619.2 948.5,619.5 956.5,619.0 964.5,618.0 972.5,616.3 980.5,614.3 988.5,611.4 996.5,607.7 1004.5,602.7 1012.5,596.9 1020.5,591.1 1028.5,585.5 1036.5,579.3 1044.5,573.3 1052.5,567.7 1060.5,563.2 1068.5,559.9 1076.5,558.8 1084.5,559.1 1092.5,560.1 1100.5,562.3 1108.5,566.0 1116.5,570.8 1124.5,576.6 1132.5,582.9 1140.5,589.2 1148.5,595.2 1156.5,601.0 1164.5,606.7 1172.5,611.5 1180.5,615.6 1188.5,618.7 1196.5,620.7 1204.5,621.9 1212.5,622.6 1220.5,622.5 1228.5,622.5 1236.5,622.6 1244.5,622.6 1252.5,622.5 1260.5,622.3 1268.5,622.1 1276.5,622.2 1284.5,622.3 1292.5,623.0 1300.5,623.7 1308.5,624.8 1316.5,626.8 1324.5,629.0 1332.5,631.5 1340.5,634.1 1348.5,636.4 1356.5,638.8 1364.5,641.2 1372.5,643.3 1380.5,644.4 1388.5,644.9 1396.5,645.6 1404.5,646.5 1412.5,648.0 1420.5,649.4 1428.5,650.7 1436.5,651.0 1444.5,651.0 1452.5,651.1 1460.5,651.0 1468.5,649.7 1476.5,647.5 1484.5,644.7 1492.5,641.8 1500.5,638.8 1508.5,636.3 1516.5,634.5 1524.5,633.9 1532.5,634.1 1540.5,635.3 1548.5,637.4 1556.5,640.2 1564.5,643.8 1572.5,648.8 1580.5,653.8 1588.5,658.4 1596.5,662.8 1604.5,666.4 1612.5,669.6 1620.5,671.6 1628.5,672.6 1636.5,672.6 1644.5,670.9 1652.5,669.3 1660.5,667.9 1668.5,666.0" fill="none" stroke="#ff0000" stroke-width="1"  stroke-dasharray="3,3"/></g>
<g shape-rendering="crispEdges"><line x1="5" y1="726.5" x2="1688" y2="726.5" stroke="#b0b0b0" stroke-dasharray="3,3"/>
<line x1="5" y1="776.5" x2="1688" y2="776.5" stroke="#b0b0b0" stroke-dasharray="3,3"/></g>
<g shape-rendering="crispEdges"><polyline points="4.5,747.5 12.5,748.7 20.5,751.5 28.5,739.3 36.5,741.4 44.5,739.8 52.5,733.2 60.5,735.2 68.5,737.5 76.5,742.4 84.5,739.0 92.5,731.9 100.5,733.1 108.5,739.3 116.5,739.0 124.5,741.2 132.5,751.7 140.5,753.0 148.5,758.7 156.5,766.1 164.5,767.7 172.5,763.1 180.5,758.6 188.5,765.7 196.5,761.6 204.5,756.8 212.5,757.2 220.5,751.5 228.5,753.8 236.5,753.9 244.5,747.7 252.5,746.0 260.5,750.3 268.5,759.0 276.5,753.8 284.5,753.8 292.5,753.8 300.5,743.2 308.5,740.0 316.5,736.7 324.5,741.9 332.5,747.4 340.5,752.9 348.5,747.9 356.5,742.2 364.5,747.6 372.5,749.4 380.5,743.4 388.5,744.4 396.5,759.3 404.5,756.7 412.5,747.1 420.5,749.2 428.5,746.7 436.5,750.3 444.5,746.7 452.5,745.8 460.5,738.0 468.5,742.0 476.5,741.6 484.5,739.6 492.5,739.1 500.5,744.2 508.5,757.0 516.5,758.4 524.5,758.7 532.5,759.7 540.5,756.5 548.5,751.3 556.5,754.5 564.5,755.8 572.5,762.8 580.5,765.7 588.5,767.9 596.5,769.7 604.5,757.1 612.5,756.5 620.5,751.3 628.5,758.9 636.5,758.9 644.5,760.2 652.5,762.4 660.5,759.3 668.5,772.5 676.5,761.4 684.5,751.1 692.5,744.3 700.5,746.9 708.5,745.6 716.5,748.4 724.5,746.2 732.5,742.9 740.5,748.4 748.5,750.1 756.5,749.5 764.5,757.0 772.5,760.7 780.5,758.1 788.5,745.1 796.5,742.3 804.5,743.9 812.5,741.3 820.5,744.2 828.5,742.8 836.5,742.3 844.5,747.9 852.5,748.7 860.5,757.6 868.5,758.7 876.5,757.9 884.5,759.5 892.5,764.2 900.5,764.3 908.5,760.0 916.5,758.9 924.5,756.5 932.5,754.1 940.5,749.6 948.5,738.5 956.5,733.3 964.5,745.1 972.5,738.9 980.5,737.8 988.5,726.1 996.5,723.3 1004.5,713.6 1012.5,717.5 1020.5,723.8 1028.5,723.1 1036.5,717.8 1044.5,729.8 1052.5,730.7 1060.5,735.1 1068.5,739.0 1076.5,747.0 1084.5,743.8 1092.5,739.7 1100.5,752.8 1108.5,754.4 1116.5,761.0 1124.5,765.0 1132.5,762.8 1140.5,760.7 1148.5,760.0 1156.5,761.0 1164.5,758.9 1172.5,751.0 1180.5,755.7 1188.5,756.3 1196.5,755.9 1204.5,753.9 1212.5,754.5 1220.5,746.2 1228.5,761.4 1236.5,762.2 1244.5,749.6 1252.5,753.3 1260.5,754.7 1268.5,752.2 1276.5,760.6 1284.5,754.6 1292.5,760.1 1300.5,763.3 1308.5,769.8 1316.5,771.7 1324.5,765.1 1332.5,767.4 1340.5,762.3 1348.5,763.2 1356.5,765.5 1364.5,770.3 1372.5,763.9 1380.5,757.1 1388.5,762.8 1396.5,770.2 1404.5,773.1 1412.5,775.5 1420.5,762.9 1428.5,765.1 1436.5,753.6 1444.5,755.3 1452.5,758.2 1460.5,759.3 1468.5,746.8 1476.5,751.1 1484.5,756.2 1492.5,754.5 1500.5,752.9 1508.5,755.3 1516.5,763.0 1524.5,770.7 1532.5,771.3 1540.5,763.9 1548.5,770.0 1556.5,773.3 1564.5,774.3 1572.5,781.6 1580.5,763.9 1588.5,765.1 1596.5,773.2 1604.5,762.7 1612.5,761.6 1620.5,757.2 1628.5,760.0 1636.5,758.1 1644.5,755.8 1652.5,762.3 1660.5,764.5 1668.5,766.5" fill="none" stroke="#1e90ff" stroke-width="1" stroke-linecap="square" /></g>
<g shape-rendering="crispEdges" fill="none" stroke="#000" stroke-width="1">
<path d="M3.5,0 V543.5 H1689.5 V0"/>
<rect x="3.5" y="545.5" width="1686" height="141"/>
<rect x="3.5" y="688.5" width="1686" height="125"/>
</g>
<g shape-rendering="crispEdges"><rect x="1689" y="314" width="1" height="2" fill="#ff0000"/><rect x="1689" y="385" width="1" height="2" fill="#ff0000"/><rect x="1689" y="451" width="1" height="2" fill="#32cd32"/><rect x="1689" y="502" width="1" height="1" fill="#778899"/><rect x="1689" y="526" width="1" height="2" fill="#3c64e6"/></g>
<g shape-rendering="crispEdges" fill="#000">
<rect x="1689" y="12" width="3" height="1"/>
<rect x="1689" y="45" width="3" height="1"/>
<rect x="1689" y="78" width="3" height="1"/>
<rect x="1689" y="111" width="3" height="1"/>
<rect x="1689" y="144" width="3" height="1"/>
<rect x="1689" y="177" width="3" height="1"/>
<rect x="1689" y="210" width="3" height="1"/>
<rect x="1689" y="243" width="3" height="1"/>
<rect x="1689" y="276" width="3" height="1"/>
<rect x="1689" y="309" width="3" height="1"/>
<rect x="1689" y="342" width="3" height="1"/>
<rect x="1689" y="375" width="3" height="1"/>
<rect x="1689" y="408" width="3" height="1"/>
<rect x="1689" y="441" width="3" height="1"/>
<rect x="1689" y="474" width="3" height="1"/>
<rect x="1689" y="507" width="3" height="1"/>
<rect x="1689" y="540" width="3" height="1"/>
</g>
<g font-family="'Liberation Sans', sans-serif" font-size="9.8" letter-spacing="-0.15" text-rendering="geometricPrecision" stroke="currentColor" stroke-width="0.3" fill="#000">
<text x="1695" y="16">5177.0</text>
<text x="1695" y="49">5135.0</text>
<text x="1695" y="82">5093.0</text>
<text x="1695" y="115">5051.0</text>
<text x="1695" y="148">5008.0</text>
<text x="1695" y="181">4966.0</text>
<text x="1695" y="214">4924.0</text>
<text x="1695" y="247">4882.0</text>
<text x="1695" y="280">4840.0</text>
<text x="1695" y="313">4798.0</text>
<text x="1695" y="346">4756.0</text>
<text x="1695" y="379">4714.0</text>
<text x="1695" y="412">4672.0</text>
<text x="1695" y="445">4629.0</text>
<text x="1695" y="478">4587.0</text>
<text x="1695" y="511">4545.0</text>
<text x="1695" y="544">4503.0</text>
</g>
<rect x="1691" y="309" width="36" height="11" fill="#ff0000" shape-rendering="crispEdges"/>
<text x="1695" y="318" font-family="'Liberation Sans', sans-serif" font-size="9.8" letter-spacing="-0.15" text-rendering="geometricPrecision" fill="#fff">4790.0</text>
<rect x="1691" y="380" width="36" height="11" fill="#ff0000" shape-rendering="crispEdges"/>
<text x="1695" y="389" font-family="'Liberation Sans', sans-serif" font-size="9.8" letter-spacing="-0.15" text-rendering="geometricPrecision" fill="#fff">4700.0</text>
<rect x="1691" y="446" width="36" height="11" fill="#32cd32" shape-rendering="crispEdges"/>
<text x="1695" y="455" font-family="'Liberation Sans', sans-serif" font-size="9.8" letter-spacing="-0.15" text-rendering="geometricPrecision" fill="#fff">4615.0</text>
<rect x="1691" y="497" width="36" height="11" fill="#000000" shape-rendering="crispEdges"/>
<text x="1695" y="506" font-family="'Liberation Sans', sans-serif" font-size="9.8" letter-spacing="-0.15" text-rendering="geometricPrecision" fill="#fff">4552.2</text>
<rect x="1691" y="521" width="36" height="11" fill="#4169e1" shape-rendering="crispEdges"/>
<text x="1695" y="530" font-family="'Liberation Sans', sans-serif" font-size="9.8" letter-spacing="-0.15" text-rendering="geometricPrecision" fill="#fff">4520.0</text>
<g shape-rendering="crispEdges" fill="#000"><rect x="1689" y="613" width="3" height="1"/><rect x="1689" y="547" width="2" height="1"/><rect x="1689" y="685" width="2" height="1"/><rect x="1689" y="690" width="2" height="1"/><rect x="1689" y="812" width="2" height="1"/></g>
<text x="1693" y="556" font-family="'Liberation Sans', sans-serif" font-size="9.8" letter-spacing="-0.15" text-rendering="geometricPrecision" stroke="currentColor" stroke-width="0.3">64.86</text>
<text x="1693" y="617" font-family="'Liberation Sans', sans-serif" font-size="9.8" letter-spacing="-0.15" text-rendering="geometricPrecision" stroke="currentColor" stroke-width="0.3">0.00</text>
<text x="1692.5" y="683" font-family="'Liberation Sans', sans-serif" font-size="9.8" letter-spacing="-0.15" text-rendering="geometricPrecision" stroke="currentColor" stroke-width="0.3">-71.44</text>
<text x="1693" y="699" font-family="'Liberation Sans', sans-serif" font-size="9.8" letter-spacing="-0.15" text-rendering="geometricPrecision" stroke="currentColor" stroke-width="0.3">100</text>
<text x="1692.5" y="730" font-family="'Liberation Sans', sans-serif" font-size="9.8" letter-spacing="-0.15" text-rendering="geometricPrecision" stroke="currentColor" stroke-width="0.3">70</text>
<text x="1692.5" y="780" font-family="'Liberation Sans', sans-serif" font-size="9.8" letter-spacing="-0.15" text-rendering="geometricPrecision" stroke="currentColor" stroke-width="0.3">30</text>
<text x="1693" y="810" font-family="'Liberation Sans', sans-serif" font-size="9.8" letter-spacing="-0.15" text-rendering="geometricPrecision" stroke="currentColor" stroke-width="0.3">0</text>
<g shape-rendering="crispEdges" fill="#000">
<rect x="4" y="814" width="1" height="3"/>
<rect x="68" y="814" width="1" height="3"/>
<rect x="132" y="814" width="1" height="3"/>
<rect x="196" y="814" width="1" height="3"/>
<rect x="260" y="814" width="1" height="3"/>
<rect x="324" y="814" width="1" height="3"/>
<rect x="388" y="814" width="1" height="3"/>
<rect x="452" y="814" width="1" height="3"/>
<rect x="516" y="814" width="1" height="3"/>
<rect x="580" y="814" width="1" height="3"/>
<rect x="644" y="814" width="1" height="3"/>
<rect x="708" y="814" width="1" height="3"/>
<rect x="772" y="814" width="1" height="3"/>
<rect x="836" y="814" width="1" height="3"/>
<rect x="900" y="814" width="1" height="3"/>
<rect x="964" y="814" width="1" height="3"/>
<rect x="1028" y="814" width="1" height="3"/>
<rect x="1092" y="814" width="1" height="3"/>
<rect x="1156" y="814" width="1" height="3"/>
<rect x="1220" y="814" width="1" height="3"/>
<rect x="1284" y="814" width="1" height="3"/>
<rect x="1348" y="814" width="1" height="3"/>
<rect x="1412" y="814" width="1" height="3"/>
<rect x="1476" y="814" width="1" height="3"/>
<rect x="1540" y="814" width="1" height="3"/>
<rect x="1604" y="814" width="1" height="3"/>
<rect x="1668" y="814" width="1" height="3"/>
</g>
<g font-family="'Liberation Sans', sans-serif" font-size="9.8" letter-spacing="-0.15" text-rendering="geometricPrecision" stroke="currentColor" stroke-width="0.3" fill="#000">
<text x="3" y="826">2 Sep 2021</text>
<text x="67" y="826">8 Sep 05:00</text>
<text x="131" y="826">14 Sep 05:00</text>
<text x="195" y="826">22 Sep 05:00</text>
<text x="259" y="826">28 Sep 05:00</text>
<text x="323" y="826">11 Oct 05:00</text>
<text x="387" y="826">15 Oct 05:00</text>
<text x="451" y="826">21 Oct 05:00</text>
<text x="515" y="826">27 Oct 05:00</text>
<text x="579" y="826">2 Nov 05:00</text>
<text x="643" y="826">8 Nov 05:00</text>
<text x="707" y="826">12 Nov 05:00</text>
<text x="771" y="826">18 Nov 05:00</text>
<text x="835" y="826">24 Nov 05:00</text>
<text x="899" y="826">30 Nov 05:00</text>
<text x="963" y="826">6 Dec 05:00</text>
<text x="1027" y="826">10 Dec 05:00</text>
<text x="1091" y="826">16 Dec 05:00</text>
<text x="1155" y="826">22 Dec 05:00</text>
<text x="1219" y="826">28 Dec 05:00</text>
<text x="1283" y="826">4 Jan 05:00</text>
<text x="1347" y="826">10 Jan 05:00</text>
<text x="1411" y="826">14 Jan 05:00</text>
<text x="1475" y="826">20 Jan 05:00</text>
<text x="1539" y="826">26 Jan 05:00</text>
<text x="1603" y="826">8 Feb 05:00</text>
<text x="1667" y="826">14 Feb 05:00</text>
</g>
<path d="M7,5 H14 L10.5,9 Z" fill="#000"/>
<text x="19" y="10" font-family="'Liberation Sans', sans-serif" font-size="9.8" letter-spacing="-0.15" text-rendering="geometricPrecision" stroke="currentColor" stroke-width="0.3" style="white-space:pre">CHINA300-,H4  4572.2 4579.6 4529.3 4552.2</text>
<text x="8" y="557" font-family="'Liberation Sans', sans-serif" font-size="9.8" letter-spacing="-0.15" text-rendering="geometricPrecision" stroke="currentColor" stroke-width="0.3">MACD(12,26,9) -48.62 -52.08</text>
<text x="8" y="700" font-family="'Liberation Sans', sans-serif" font-size="9.8" letter-spacing="-0.15" text-rendering="geometricPrecision" stroke="currentColor" stroke-width="0.3">RSI(14) 37.4124</text>
<text x="1303.5" y="122" font-family="'Liberation Sans', 'Noto Sans CJK SC', sans-serif" font-size="36" fill="#eb141e">多空转折点<tspan font-size="38" dy="-0.8">4615</tspan></text></svg>
</body></html>
